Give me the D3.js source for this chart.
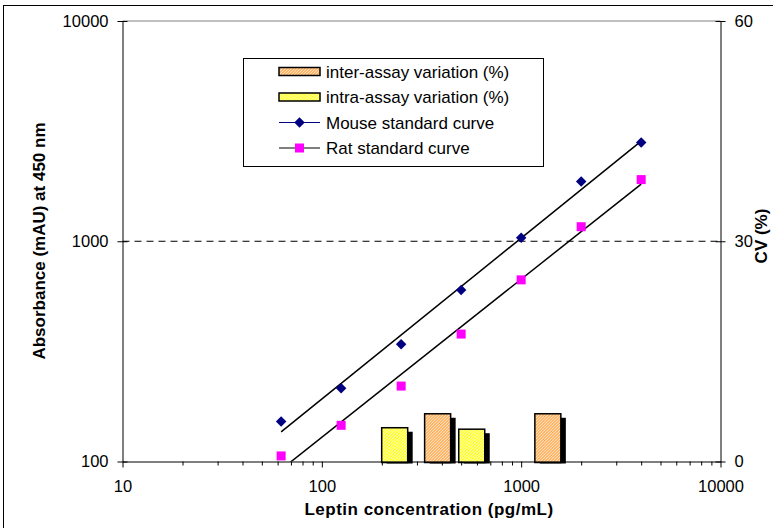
<!DOCTYPE html>
<html>
<head>
<meta charset="utf-8">
<script src="https://cdn.jsdelivr.net/npm/d3@7"></script>
<style>
  body { margin: 0; background: #fff; }
  svg { display: block; font-family: "Liberation Sans", Arial, sans-serif; }
  .axis path, .axis line { stroke: #000; }
</style>
</head>
<body>
<div id="viz"></div>
<script>
// standard curves (pg/mL vs mAU)
const concentrations = [62.5, 125, 250, 500, 1000, 2000, 4000];
const mouseAbs = [152, 215, 341, 601, 1037, 1866, 2811];
const ratAbs = [106, 146, 220, 379, 668, 1164, 1905];

// CV bars, placed on the concentration axis
const barSeries = ["intra", "inter", "intra", "inter"];
const barConc = [232, 381, 565, 1361];
const barCV = [4.6, 6.5, 4.4, 6.5];

const xTicks = [10, 100, 1000, 10000];
const yTicks = [100, 1000, 10000];
const cvTicks = [0, 30, 60];

const legendItems = [
  { key: "inter", label: "inter-assay variation (%)" },
  { key: "intra", label: "intra-assay variation (%)" },
  { key: "mouse", label: "Mouse standard curve" },
  { key: "rat", label: "Rat standard curve" }
];

const W = 773, H = 528;
const svg = d3.select("#viz").append("svg")
  .attr("width", W)
  .attr("height", H);

const defs = svg.append("defs");
function hatch(id, base, stripe) {
  const p = defs.append("pattern")
    .attr("id", id)
    .attr("patternUnits", "userSpaceOnUse")
    .attr("width", 3)
    .attr("height", 3);
  p.append("rect").attr("width", 3).attr("height", 3).attr("fill", base);
  p.append("path")
    .attr("d", "M-1,1 l2,-2 M0,3 l3,-3 M2,4 l2,-2")
    .attr("stroke", stripe)
    .attr("stroke-width", 1.1);
}
hatch("hatch-inter", "#ffa445", "#ffe4c4");
hatch("hatch-intra", "#ffff00", "#ffffc0");
const fills = { inter: "url(#hatch-inter)", intra: "url(#hatch-intra)" };

// chart border (only left/top inside the picture)
svg.append("rect")
  .attr("x", 3.5).attr("y", 5.5)
  .attr("width", 900).attr("height", 900)
  .attr("fill", "none")
  .attr("stroke", "#000");

const plotL = 122.5, plotR = 720.5, plotT = 21, plotB = 461.5;

const x = d3.scaleLog().domain([10, 10000]).range([plotL, plotR]);
const y = d3.scaleLog().domain([100, 10000]).range([plotB, plotT]);
const yCV = d3.scaleLinear().domain([0, 60]).range([plotB, plotT]);

defs.append("clipPath").attr("id", "plot-clip")
  .append("rect")
  .attr("x", plotL).attr("y", plotT)
  .attr("width", plotR - plotL).attr("height", plotB - plotT);

// plot top border
svg.append("line")
  .attr("x1", plotL).attr("x2", plotR)
  .attr("y1", plotT).attr("y2", plotT)
  .attr("stroke", "#808080");

// dashed gridline
svg.append("line")
  .attr("x1", plotL).attr("x2", plotR)
  .attr("y1", y(1000)).attr("y2", y(1000))
  .attr("stroke", "#000")
  .attr("stroke-dasharray", "7,5");

// bars with shadows
const bars = barConc.map((c, i) => ({ conc: c, cv: barCV[i], series: barSeries[i] }));
const barW = 26;
svg.append("g").selectAll("rect")
  .data(bars)
  .join("rect")
    .attr("x", d => x(d.conc) - barW / 2 + 5)
    .attr("y", d => yCV(d.cv) + 4)
    .attr("width", barW)
    .attr("height", d => yCV(0) - yCV(d.cv) - 2)
    .attr("fill", "#000");
svg.append("g").selectAll("rect")
  .data(bars)
  .join("rect")
    .attr("x", d => x(d.conc) - barW / 2)
    .attr("y", d => yCV(d.cv))
    .attr("width", barW)
    .attr("height", d => yCV(0) - yCV(d.cv) + 1)
    .attr("fill", d => fills[d.series])
    .attr("stroke", "#000")
    .attr("stroke-width", 1.5);

// axes
const fontSize = "16.5px";
const xAxis = svg.append("g")
  .attr("class", "axis")
  .attr("transform", `translate(0,${plotB})`)
  .call(d3.axisBottom(x).tickValues(xTicks).tickFormat(d3.format("d")).tickSizeInner(6).tickSizeOuter(0));
xAxis.selectAll("text").attr("y", 19).style("font-size", fontSize).attr("fill", "#000");

const minor = [];
[10, 100, 1000].forEach(dec => { for (let k = 2; k <= 9; k++) minor.push(dec * k); });
svg.append("g")
  .attr("class", "axis")
  .attr("transform", `translate(0,${plotB})`)
  .call(d3.axisBottom(x).tickValues(minor).tickFormat("").tickSizeInner(4).tickSizeOuter(0))
  .select(".domain").remove();

const yAxis = svg.append("g")
  .attr("class", "axis")
  .attr("transform", `translate(${plotL},0)`)
  .call(d3.axisLeft(y).tickValues(yTicks).tickFormat(d3.format("d")).tickSizeInner(5).tickSizeOuter(0).tickPadding(9));
yAxis.selectAll(".tick line").attr("x1", 5);
yAxis.selectAll("text").style("font-size", fontSize).attr("fill", "#000");

const cvAxis = svg.append("g")
  .attr("class", "axis")
  .attr("transform", `translate(${plotR},0)`)
  .call(d3.axisRight(yCV).tickValues(cvTicks).tickSizeInner(5).tickSizeOuter(0).tickPadding(9));
cvAxis.selectAll(".tick line").attr("x1", -5);
cvAxis.selectAll("text").style("font-size", fontSize).attr("fill", "#000");

// power trendlines (least squares in log-log space)
function powerFit(xs, ys) {
  const lx = xs.map(Math.log10), ly = ys.map(Math.log10);
  const mx = d3.mean(lx), my = d3.mean(ly);
  const slope = d3.sum(lx, (v, i) => (v - mx) * (ly[i] - my)) / d3.sum(lx, v => (v - mx) ** 2);
  return c => Math.pow(10, my + slope * (Math.log10(c) - mx));
}
const plot = svg.append("g").attr("clip-path", "url(#plot-clip)");
[mouseAbs, ratAbs].forEach(vals => {
  const f = powerFit(concentrations, vals);
  const xs = d3.extent(concentrations);
  plot.append("line")
    .attr("x1", x(xs[0])).attr("y1", y(f(xs[0])))
    .attr("x2", x(xs[1])).attr("y2", y(f(xs[1])))
    .attr("stroke", "#000")
    .attr("stroke-width", 1.5);
});

const diamond = d3.symbol().type(d3.symbolDiamond2).size(70);
svg.append("g").selectAll("path")
  .data(concentrations.map((c, i) => [c, mouseAbs[i]]))
  .join("path")
    .attr("transform", d => `translate(${x(d[0])},${y(d[1])})`)
    .attr("d", diamond)
    .attr("fill", "#000080");

svg.append("g").selectAll("rect")
  .data(concentrations.map((c, i) => [c, ratAbs[i]]))
  .join("rect")
    .attr("x", d => x(d[0]) - 4.5)
    .attr("y", d => y(d[1]) - 4.5)
    .attr("width", 9)
    .attr("height", 9)
    .attr("fill", "#ff00ff");

// axis titles
svg.append("text")
  .attr("transform", "translate(45,241) rotate(-90)")
  .attr("text-anchor", "middle")
  .style("font-size", "17px")
  .style("font-weight", "bold")
  .text("Absorbance (mAU) at 450 nm");

svg.append("text")
  .attr("transform", "translate(767,236) rotate(-90)")
  .attr("text-anchor", "middle")
  .style("font-size", "17px")
  .style("font-weight", "bold")
  .text("CV (%)");

svg.append("text")
  .attr("x", 429)
  .attr("y", 515)
  .attr("text-anchor", "middle")
  .style("font-size", "17px")
  .style("font-weight", "bold")
  .style("letter-spacing", "0.5px")
  .text("Leptin concentration (pg/mL)");

// legend
const legend = svg.append("g");
legend.append("rect")
  .attr("x", 243.5).attr("y", 58.5)
  .attr("width", 300).attr("height", 108)
  .attr("fill", "#fff")
  .attr("stroke", "#000");

const rowY = d3.scalePoint().domain(legendItems.map(d => d.key)).range([71.5, 148]);
legendItems.forEach(item => {
  const cy = rowY(item.key);
  if (item.key === "inter" || item.key === "intra") {
    legend.append("rect")
      .attr("x", 279).attr("y", cy - 4)
      .attr("width", 41).attr("height", 8)
      .attr("fill", fills[item.key])
      .attr("stroke", "#000")
      .attr("stroke-width", 1.5);
  } else {
    legend.append("line")
      .attr("x1", 279).attr("x2", 320)
      .attr("y1", cy).attr("y2", cy)
      .attr("stroke", item.key === "mouse" ? "#000080" : "#000");
    if (item.key === "mouse") {
      legend.append("path")
        .attr("transform", `translate(299.5,${cy})`)
        .attr("d", diamond)
        .attr("fill", "#000080");
    } else {
      legend.append("rect")
        .attr("x", 295).attr("y", cy - 4.5)
        .attr("width", 9).attr("height", 9)
        .attr("fill", "#ff00ff");
    }
  }
  legend.append("text")
    .attr("x", 326)
    .attr("y", cy + 6)
    .style("font-size", "17px")
    .text(item.label);
});
</script>
</body>
</html>
